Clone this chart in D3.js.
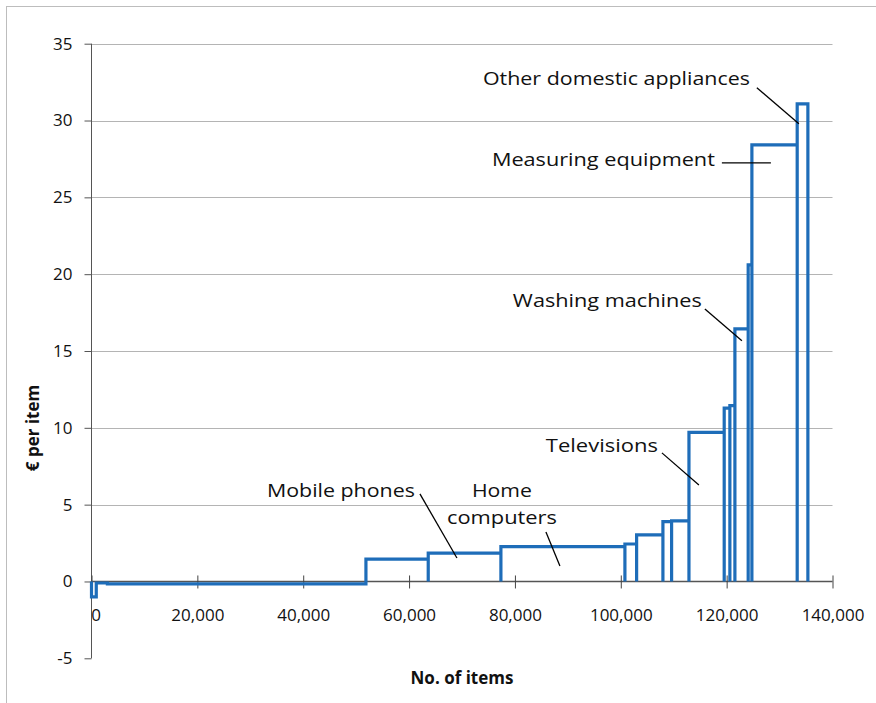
<!DOCTYPE html>
<html><head><meta charset="utf-8">
<script src="https://cdn.jsdelivr.net/npm/d3@7"></script>
<style>
html,body{margin:0;padding:0;background:#fff;}
text{font-family:"Open Sans",sans-serif;}
</style></head>
<body>
<svg id="c" width="876" height="703"></svg>
<script>
// Cumulative number of items at each step boundary
const boundaries = [0, 900, 3000, 51850, 63620, 77350, 100780, 102990, 107960, 109600, 112880, 119540, 120610, 121560, 124070, 124770, 133330, 135350];
// € per item for each step (one per interval between boundaries)
const values = [-1.0, -0.1, -0.15, 1.46, 1.84, 2.27, 2.44, 3.03, 3.89, 3.94, 9.71, 11.28, 11.45, 16.44, 20.6, 28.42, 31.09];
const xTicks = [0, 20000, 40000, 60000, 80000, 100000, 120000, 140000];
const yTicks = [-5, 0, 5, 10, 15, 20, 25, 30, 35];
// Annotation labels with their text anchor and leader line (in data units)
const labels = [
  {lines:["Other domestic appliances"], tx:124400, ty:32.32, anchor:"end", len:[267], x1:125710, y1:32.13, x2:133650, y2:29.79},
  {lines:["Measuring equipment"], tx:117780, ty:27.05, anchor:"end", len:[223], x1:119100, y1:27.24, x2:128360, y2:27.24},
  {lines:["Washing machines"], tx:115320, ty:17.87, anchor:"end", len:[189], x1:115890, y1:17.74, x2:122880, y2:15.66},
  {lines:["Televisions"], tx:107010, ty:8.43, anchor:"end", len:[112], x1:107770, y1:8.37, x2:114760, y2:6.28},
  {lines:["Mobile phones"], tx:61110, ty:5.50, anchor:"end", len:[148], x1:62050, y1:5.70, x2:69040, y2:1.53},
  {lines:["Home","computers"], tx:77550, ty:5.50, anchor:"middle", len:[60,110], x1:85860, y1:3.22, x2:88500, y2:1.01}
];

const svg = d3.select("#c");
const x = d3.scaleLinear().domain([0, 140000]).range([91.5, 832.5]);
const y = d3.scaleLinear().domain([-5, 35]).range([658.3, 43.7]);

// outer frame (left & top visible)
svg.append("rect").attr("x",6.5).attr("y",6.5).attr("width",900).attr("height",720)
  .attr("fill","none").attr("stroke","#bdbdbd").attr("stroke-width",1);

// gridlines
svg.append("g").selectAll("line").data(yTicks.filter(d=>d>0)).join("line")
  .attr("x1",x(0)).attr("x2",x(140000))
  .attr("y1",d=>Math.round(y(d))+0.5).attr("y2",d=>Math.round(y(d))+0.5)
  .attr("stroke","#b4b4b4").attr("stroke-width",1);

// y axis
const yAxis = d3.axisLeft(y).tickValues(yTicks).tickSize(7).tickPadding(12).tickFormat(d=>String(d));
const gy = svg.append("g").attr("transform",`translate(${x(0)},0)`).call(yAxis);
gy.select(".domain").attr("stroke","#555").attr("d",`M0,${y(35)}V${y(-5)}`);
gy.selectAll(".tick line").attr("stroke","#555");
gy.selectAll("text").attr("font-size",17).attr("fill","#111");

// x axis at y=0
const xAxis = d3.axisBottom(x).tickValues(xTicks).tickSize(7).tickPadding(20).tickFormat(d3.format(","));
const gx = svg.append("g").attr("transform",`translate(0,${y(0)})`).call(xAxis);
gx.select(".domain").attr("stroke","#555").attr("stroke-width",1.5).attr("d",`M${x(0)},0H${x(140000)}`);
gx.selectAll(".tick line").attr("stroke","#444").attr("y1",-6).attr("y2",7);
gx.selectAll("text").attr("font-size",17).attr("fill","#111");
gx.selectAll(".tick").filter(d=>d===0).select("text").attr("dx",4);

// step outline: up to each value and back to baseline at each boundary
const pts = [[boundaries[0],0]];
values.forEach((v,i)=>{
  pts.push([boundaries[i],v],[boundaries[i+1],v],[boundaries[i+1],0]);
});
const line = d3.line().x(d=>x(d[0])).y(d=>y(d[1]));
svg.append("path").attr("d",line(pts)).attr("fill","none")
  .attr("stroke","#1e6db9").attr("stroke-width",3.2).attr("stroke-linejoin","miter");

// annotations
const ga = svg.append("g");
labels.forEach(l=>{
  ga.append("line").attr("x1",x(l.x1)).attr("y1",y(l.y1)).attr("x2",x(l.x2)).attr("y2",y(l.y2))
    .attr("stroke","#000").attr("stroke-width",1.3);
  l.lines.forEach((t,i)=>{
    ga.append("text").attr("x",x(l.tx)).attr("y",y(l.ty)+i*27).attr("text-anchor",l.anchor)
      .attr("font-size",18).attr("fill","#111")
      .attr("textLength",l.len[i]).attr("lengthAdjust","spacingAndGlyphs").text(t);
  });
});

// axis titles
svg.append("text").attr("x",462).attr("y",684).attr("text-anchor","middle")
  .attr("font-size",17).attr("font-weight","bold").attr("fill","#111").text("No. of items");
svg.append("text").attr("transform","translate(39,428) rotate(-90)").attr("text-anchor","middle")
  .attr("font-size",17).attr("font-weight","bold").attr("fill","#111").text("€ per item");
</script>
</body></html>
